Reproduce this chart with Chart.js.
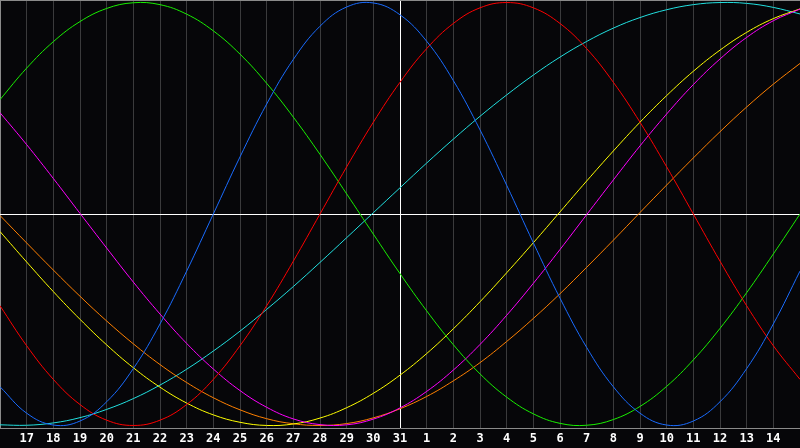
<!DOCTYPE html>
<html>
<head>
<meta charset="utf-8">
<script src="https://cdn.jsdelivr.net/npm/chart.js@4.4.1/dist/chart.umd.min.js"></script>
<style>
  html, body { margin:0; padding:0; background:#060609; }
  #wrap { width:800px; height:448px; }
</style>
</head>
<body>
<div id="wrap"><canvas id="bio" width="800" height="448"></canvas></div>
<script>
// days shown on the axis (first and last gridline have no label)
var days = ['16','17','18','19','20','21','22','23','24','25','26','27','28','29','30','31',
            '1','2','3','4','5','6','7','8','9','10','11','12','13','14','15']
var todayIndex = 15

// values, -1 .. 1
var physical = [-0.817,-0.942,-0.998,-0.979,-0.888,-0.731,-0.520,-0.270,0.000,0.270,0.520,0.731,0.888,0.979,0.998,0.942,
                0.817,0.631,0.398,0.136,-0.136,-0.398,-0.631,-0.817,-0.942,-0.998,-0.979,-0.888,-0.731,-0.520,-0.270]
var emotional = [-0.434,-0.623,-0.782,-0.901,-0.975,-1.000,-0.975,-0.901,-0.782,-0.623,-0.434,-0.223,0.000,0.223,0.434,0.623,
                 0.782,0.901,0.975,1.000,0.975,0.901,0.782,0.623,0.434,0.223,0.000,-0.223,-0.434,-0.623,-0.782]
var intellectual = [0.541,0.690,0.815,0.910,0.972,0.999,0.990,0.945,0.866,0.756,0.618,0.458,0.282,0.095,-0.095,-0.282,
                    -0.458,-0.618,-0.756,-0.866,-0.945,-0.990,-0.999,-0.972,-0.910,-0.815,-0.690,-0.541,-0.372,-0.189,0.000]
var intuitive = [0.479,0.328,0.168,0.003,-0.161,-0.322,-0.473,-0.612,-0.733,-0.835,-0.914,-0.969,-0.996,-0.997,-0.970,-0.917,
                 -0.839,-0.738,-0.617,-0.479,-0.328,-0.168,-0.003,0.161,0.322,0.473,0.612,0.733,0.835,0.914,0.969]
var aesthetic = [-0.083,-0.227,-0.367,-0.498,-0.619,-0.727,-0.819,-0.894,-0.950,-0.985,-1.000,-0.993,-0.965,-0.916,-0.848,-0.762,
                 -0.660,-0.543,-0.415,-0.278,-0.136,0.010,0.156,0.298,0.434,0.560,0.675,0.775,0.859,0.924,0.970]
var awareness = [-0.007,-0.137,-0.265,-0.389,-0.506,-0.614,-0.712,-0.797,-0.869,-0.926,-0.968,-0.992,-1.000,-0.991,-0.964,-0.921,
                 -0.863,-0.789,-0.703,-0.603,-0.494,-0.377,-0.252,-0.124,0.007,0.137,0.265,0.389,0.506,0.614,0.712]
var spiritual = [-0.997,-0.999,-0.988,-0.963,-0.924,-0.873,-0.809,-0.734,-0.648,-0.554,-0.451,-0.343,-0.229,-0.112,0.006,0.124,
                 0.241,0.354,0.462,0.563,0.657,0.742,0.816,0.879,0.929,0.966,0.990,1.000,0.996,0.977,0.946]

var seriesNames = ['physical','emotional','intellectual','intuitive','aesthetic','awareness','spiritual']
var seriesData = [physical, emotional, intellectual, intuitive, aesthetic, awareness, spiritual]
var seriesColors = ['#1a6cff','#ff0000','#19f000','#ff00ff','#ffff00','#ff8000','#22e0e0']

var datasets = []
for (var i = 0; i < seriesData.length; i++) {
    datasets.push({
        label: seriesNames[i],
        data: seriesData[i],
        borderColor: seriesColors[i],
        borderWidth: 1,
        pointRadius: 0,
        tension: 0.4,
        fill: false
    })
}

// gray frame line along the top of the plot
var topFrame = {
    id: 'topFrame',
    beforeDatasetsDraw: function(chart) {
        var a = chart.chartArea, c = chart.ctx
        c.save()
        c.strokeStyle = '#8a8a8a'
        c.lineWidth = 1
        c.beginPath()
        c.moveTo(a.left, a.top + 0.5)
        c.lineTo(a.right, a.top + 0.5)
        c.stroke()
        c.restore()
    }
}

var ctx = document.getElementById('bio').getContext('2d')
var bioChart = new Chart(ctx, {
    type: 'line',
    data: { labels: days, datasets: datasets },
    plugins: [topFrame],
    options: {
        responsive: false,
        animation: false,
        devicePixelRatio: 1,
        layout: { padding: 0 },
        plugins: { legend: { display: false }, tooltip: { enabled: false } },
        scales: {
            x: {
                offset: false,
                grid: {
                    drawTicks: false,
                    color: function(c) {
                        if (c.index === 0) return '#8a8a8a'
                        return c.index === todayIndex ? '#ffffff' : '#3a3a3c'
                    },
                    lineWidth: 1
                },
                border: { display: true, color: '#8a8a8a' },
                ticks: {
                    autoSkip: false,
                    maxRotation: 0,
                    padding: 4,
                    color: '#ffffff',
                    font: { family: 'DejaVu Sans Mono', weight: 'bold', size: 12 },
                    callback: function(v, idx) {
                        if (idx === 0 || idx === days.length - 1) return ''
                        return days[idx]
                    }
                },
                afterFit: function(s) {
                    s.height = 20
                    s.paddingLeft = 0
                    s.paddingRight = 0
                }
            },
            y: {
                min: -1.012,
                max: 1.012,
                grid: { color: '#ffffff', drawTicks: false, lineWidth: 1 },
                border: { display: false },
                ticks: { display: false },
                afterBuildTicks: function(s) { s.ticks = [{ value: 0 }] },
                afterFit: function(s) { s.width = 0 }
            }
        }
    }
})
</script>
</body>
</html>
